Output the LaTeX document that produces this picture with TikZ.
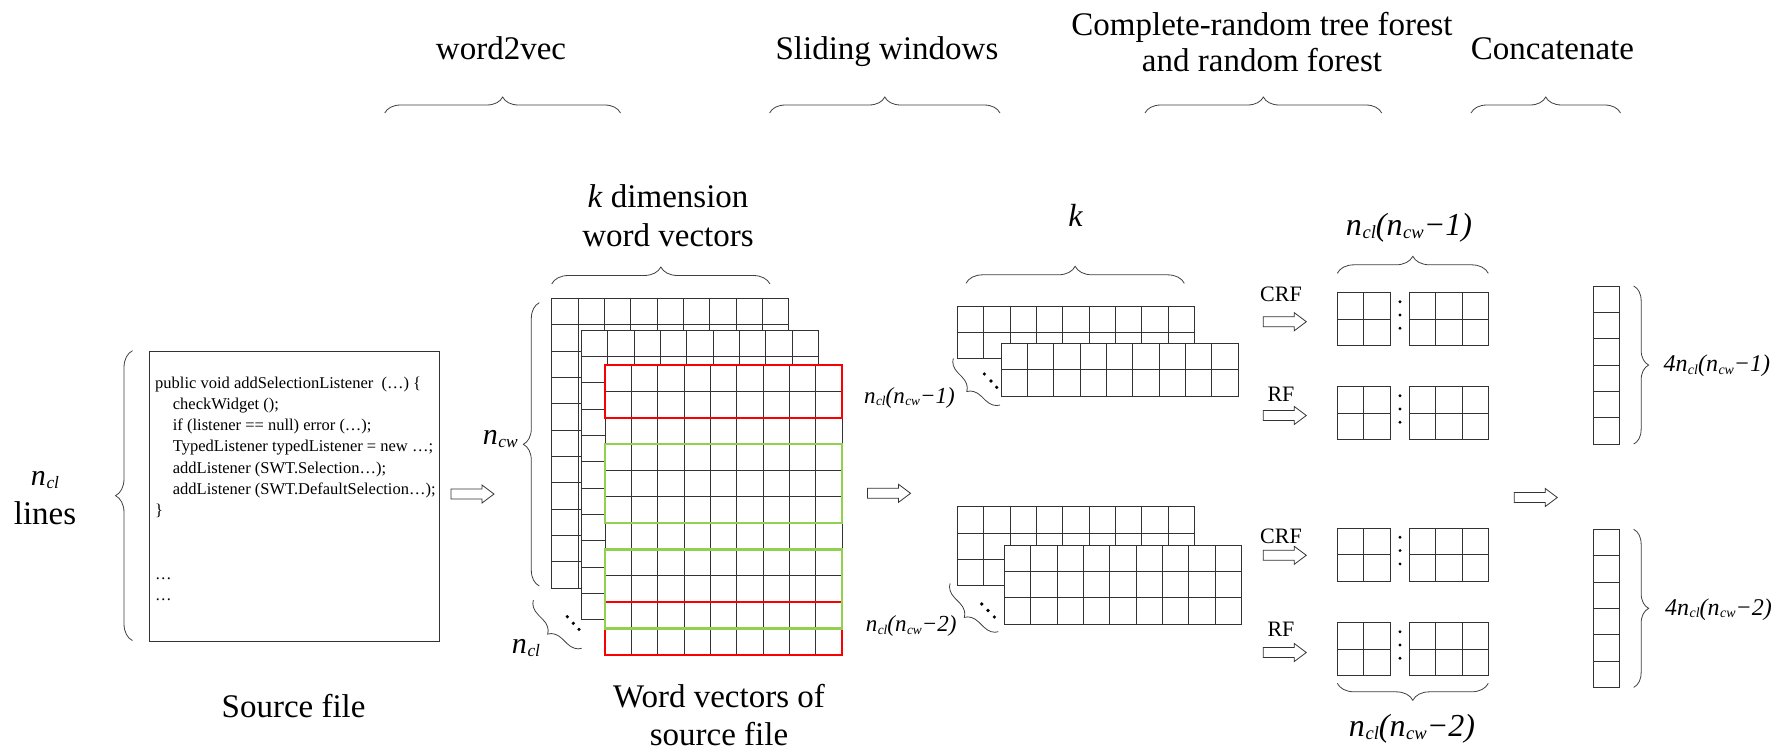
\documentclass[tikz,border=0pt]{standalone}
\usepackage{fontspec}
\setmainfont{Liberation Serif}
\usetikzlibrary{decorations.pathreplacing}

\definecolor{winred}{RGB}{250,0,0}
\definecolor{wingreen}{RGB}{146,208,80}

\def\cw{26.35pt}
\newcommand{\nidx}[1]{\textit{n}\kern0.02em\raisebox{-0.1em}{\scalebox{0.58}{\textit{#1}}}}
\newcommand{\cellgrid}[4]{%
  \node[gridbox, minimum width=#3*\cw, minimum height=#4*\cw, anchor=north west] (#1) at (#2) {};
  \foreach \i in {1,...,#3}{\ifnum\i<#3\relax\draw[cellline] ([xshift=\i*\cw]#1.north west) -- ([xshift=\i*\cw]#1.south west);\fi}
  \foreach \j in {1,...,#4}{\ifnum\j<#4\relax\draw[cellline] ([yshift=-\j*\cw]#1.north west) -- ([yshift=-\j*\cw]#1.north east);\fi}}

\begin{document}
\begin{tikzpicture}[x=1pt, y=-1pt,
    gridbox/.style={draw=black!80, fill=white, line width=0.9pt, inner sep=0pt, outer sep=0pt},
    cellline/.style={draw=black!80, line width=0.9pt},
    redwin/.style={draw=winred, line width=2.2pt},
    greenwin/.style={draw=wingreen, line width=2.2pt},
    curly/.style={decorate, decoration={brace, amplitude=#1}, draw=black!75, line width=0.8pt},
    curly/.default=16,
    headlbl/.style={font=\fontsize{33}{38}\selectfont, align=center, inner sep=0pt},
    idx/.style={font=\fontsize{#1}{#1}\selectfont\itshape, inner sep=0pt},
    smalllbl/.style={font=\fontsize{22}{24}\selectfont, inner sep=0pt},
    codetext/.style={font=\fontsize{16.5}{21.2}\selectfont, align=left, inner sep=0pt},
    hollow/.pic={\draw[line width=0.8pt, draw=black!80, fill=white] (0,-5) -- (31,-5) -- (31,-9) -- (43,0) -- (31,9) -- (31,5) -- (0,5) -- cycle;}]
    \fill[white] (0,0) rectangle (1789,755);
    \useasboundingbox (0,0) rectangle (1789,755);

    \node[headlbl, anchor=base] (t1) at (501,59) {word2vec};
    \node[headlbl, anchor=base] (t2) at (887,59) {Sliding windows};
    \node[headlbl, anchor=base, font=\fontsize{33}{36.7}\selectfont] (t3) at (1262,71.7) {Complete-random tree forest\\and random forest};
    \node[headlbl, anchor=base] (t4) at (1552.5,59) {Concatenate};
    \draw[curly] (384.8,113) -- (620.5,113);
    \draw[curly] (769.6,113) -- (1000,113);
    \draw[curly] (1145,113) -- (1381.7,113);
    \draw[curly] (1471,113) -- (1620.5,113);

    \node[headlbl, anchor=base, font=\fontsize{33}{39}\selectfont] (lines) at (45,524) {{\fontsize{30}{30}\selectfont\nidx{cl}}\\lines};
    \draw[curly=17] (132.5,640.6) -- (132.5,350.7);
    \node[draw=black!80, line width=0.9pt, inner sep=0pt, minimum width=290.1pt, minimum height=289.9pt, anchor=north west] (src) at (148.5,350.7) {};
    \node[codetext, anchor=base west] (code) at (155,600.3) {public void addSelectionListener~ (…) \{\\
      \hspace*{17.7pt}checkWidget ();\\
      \hspace*{17.7pt}if (listener == null) error (…);\\
      \hspace*{17.7pt}TypedListener typedListener = new …;\\
      \hspace*{17.7pt}addListener (SWT.Selection…);\\
      \hspace*{17.7pt}addListener (SWT.DefaultSelection…);\\
      \}\\ \mbox{}\\ \mbox{}\\ …\\ …};
    \node[headlbl, anchor=base] (srclbl) at (293.6,717.7) {Source file};
    \pic (a1) at (451,494) {hollow};

    \node[headlbl, anchor=base, font=\fontsize{33}{39}\selectfont] (kdim) at (668,246) {\textit{k} dimension\\word vectors};
    \draw[curly=17] (551.7,284) -- (770,284);
    \cellgrid{w1}{551.7,298.3}{9}{11}
    \cellgrid{w2}{581.3,330}{9}{11}
    \cellgrid{w3}{605,365}{9}{11}
    \draw[redwin] (w3.north west) rectangle ([yshift=-2*\cw]w3.north east);
    \draw[redwin] ([yshift=-9*\cw]w3.north west) rectangle (w3.south east);
    \draw[greenwin] ([yshift=-3*\cw]w3.north west) rectangle ([yshift=-6*\cw]w3.north east);
    \draw[greenwin] ([yshift=-7*\cw]w3.north west) rectangle ([yshift=-10*\cw]w3.north east);
    \draw[curly] (539.3,586) -- (539.3,302.7);
    \node[idx=30, anchor=base east] (ncw) at (518,444) {\nidx{cw}};
    \draw[curly=14] (581.7,648.3) -- (533.3,600);
    \foreach \p in {(567.3,616.7),(573.3,623.3),(579,629.3)} \fill[black] \p circle (1.8);
    \node[idx=30, anchor=base west] (ncl) at (511.7,653) {\nidx{cl}};
    \node[headlbl, anchor=base] (wvlbl) at (719,745) {Word vectors of\\source file};
    \pic (a2) at (867.5,493.3) {hollow};

    \node[idx=32, anchor=base] (k) at (1075.5,226) {k};
    \draw[curly=17] (966,283.3) -- (1184.3,283.3);
    \cellgrid{s1a}{957.3,306}{9}{2}
    \cellgrid{s1b}{1001,343.3}{9}{2}
    \draw[curly=14] (1000,405) -- (953.3,358.3);
    \foreach \p in {(984.3,374),(991,381),(996.7,387.3)} \fill[black] \p circle (1.8);
    \node[idx=23, anchor=base east] (win1) at (955,403.3) {\nidx{cl}(\nidx{cw}−1)};
    \cellgrid{s2a}{957.3,506.7}{9}{3}
    \cellgrid{s2b}{1004.3,545}{9}{3}
    \draw[curly=14] (998.3,631.7) -- (950,583.3);
    \foreach \p in {(981.7,604),(988,610.5),(994.3,617)} \fill[black] \p circle (1.8);
    \node[idx=23, anchor=base east] (win2) at (956.7,631.7) {\nidx{cl}(\nidx{cw}−2)};

    \node[idx=32, anchor=base] (out1) at (1409,235) {\nidx{cl}(\nidx{cw}−1)};
    \draw[curly=17] (1337.3,273.3) -- (1488.3,273.3);
    \foreach \nm/\yy/\lb/\ly/\ay in {c1/292.7/CRF/301/321.7, r1/386.7/RF/401.7/415.5, c2/528.3/CRF/543.3/555.3, r2/622.7/RF/636.7/652.5}{
      \cellgrid{\nm-l}{1337.3,\yy}{2}{2}
      \cellgrid{\nm-r}{1409.3,\yy}{3}{2}
      \foreach \dd in {9,22.3,35.6} \fill[black] (1400,\yy+\dd) circle (1.6);
      \node[smalllbl, anchor=base] (\nm-lbl) at (1281,\ly) {\lb};
      \pic (\nm-arr) at (1263.3,\ay) {hollow};
    }
    \draw[curly=17] (1488.3,683.3) -- (1337.3,683.3);
    \node[idx=32, anchor=base] (out2) at (1412,736.7) {\nidx{cl}(\nidx{cw}−2)};

    \pic (a3) at (1514.3,497.5) {hollow};
    \cellgrid{v1}{1593.3,286}{1}{6}
    \cellgrid{v2}{1593.3,529.3}{1}{6}
    \draw[curly=15] ([xshift=14pt]v1.north east) -- ([xshift=14pt]v1.south east);
    \draw[curly=15] ([xshift=14pt]v2.north east) -- ([xshift=14pt]v2.south east);
    \node[idx=24, anchor=base west] (cat1) at (1663.3,371.7) {4\nidx{cl}(\nidx{cw}−1)};
    \node[idx=24, anchor=base west] (cat2) at (1665,615) {4\nidx{cl}(\nidx{cw}−2)};
\end{tikzpicture}
\end{document}
